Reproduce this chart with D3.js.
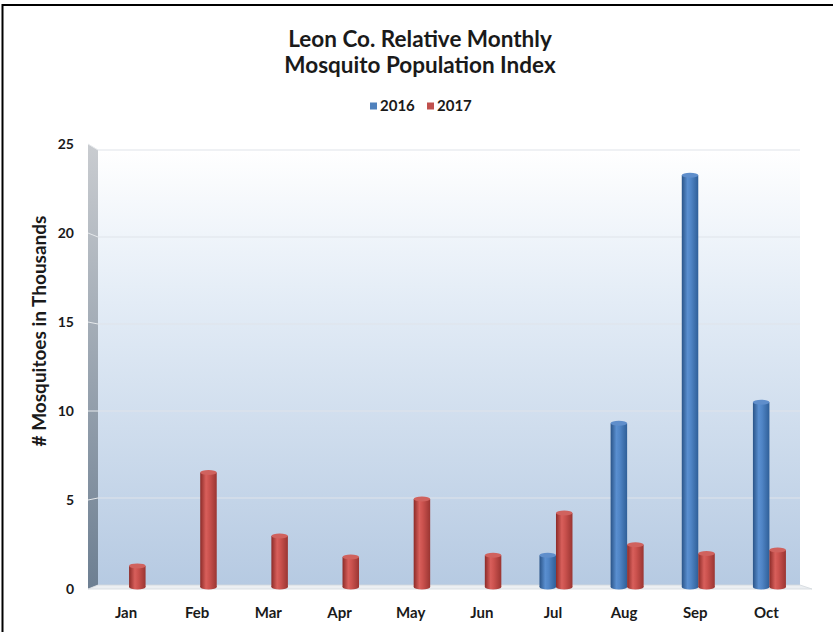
<!DOCTYPE html>
<html>
<head>
<meta charset="utf-8">
<script src="https://cdn.jsdelivr.net/npm/d3@7"></script>
<style>
  html, body { margin: 0; padding: 0; background: #fff; }
  svg text { font-family: Lato, "Open Sans", sans-serif; font-weight: bold; fill: #1a1a1a; }
</style>
</head>
<body>
<div id="chart"></div>
<script>
// chart data
const months = ["Jan", "Feb", "Mar", "Apr", "May", "Jun", "Jul", "Aug", "Sep", "Oct"];
const seriesNames = ["2016", "2017"];
const values2016 = [null, null, null, null, null, null, 1.8, 9.3, 23.4, 10.5];
const values2017 = [1.2, 6.5, 2.9, 1.7, 5.0, 1.8, 4.2, 2.4, 1.9, 2.1];
const yTicks = [0, 5, 10, 15, 20, 25];
const titleLines = ["Leon Co. Relative Monthly", "Mosquito Population Index"];
const yTitle = "# Mosquitoes in Thousands";

const width = 833, height = 632;

const svg = d3.select("#chart")
  .append("svg")
  .attr("width", width)
  .attr("height", height);

const defs = svg.append("defs");

function gradient(id, horizontal, stops) {
  const g = defs.append("linearGradient")
    .attr("id", id)
    .attr("x1", 0).attr("y1", 0)
    .attr("x2", horizontal ? 1 : 0).attr("y2", horizontal ? 0 : 1);
  stops.forEach(([o, c]) => g.append("stop").attr("offset", o).attr("stop-color", c));
}

gradient("backWall", false, [[0, "#ffffff"], [0.35, "#e3ecf6"], [1, "#b6cae2"]]);
gradient("sideWall", false, [[0, "#c9ccd0"], [1, "#6d7f92"]]);
gradient("cyl2016", true, [[0, "#2a5488"], [0.35, "#5a8fd0"], [0.55, "#5085c6"], [1, "#2f5f98"]]);
gradient("cyl2017", true, [[0, "#8c2b28"], [0.35, "#d85f5b"], [0.55, "#cb524e"], [1, "#9a3532"]]);

const colors = { "2016": "#4f81bd", "2017": "#c0504d" };
const capColors = { "2016": "#5f8ecb", "2017": "#d0625e" };

// outer frame (only top and left edges show in the picture)
svg.append("line").attr("x1", 2.5).attr("x2", width).attr("y1", 5).attr("y2", 5)
  .attr("stroke", "#000").attr("stroke-width", 2);
svg.append("line").attr("x1", 2.5).attr("x2", 2.5).attr("y1", 4).attr("y2", height)
  .attr("stroke", "#000").attr("stroke-width", 2);

// scales: back wall, front edge of side wall, and mid depth for bars
const yBack = d3.scaleLinear().domain([0, 25]).range([585, 150]);
const yFront = d3.scaleLinear().domain([0, 25]).range([589, 144]);
const yBar = d3.scaleLinear().domain([0, 25]).range([587, 147]);

const wallLeft = 98, wallRight = 800, depthX = 10;

const x = d3.scaleBand().domain(months).range([93.5, 805]);
const barW = 16.5;
const x1 = d3.scaleBand().domain(seriesNames)
  .range([x.bandwidth() / 2 - barW, x.bandwidth() / 2 + barW]);

// back wall
svg.append("rect")
  .attr("x", wallLeft).attr("y", yBack(25))
  .attr("width", wallRight - wallLeft).attr("height", yBack(0) - yBack(25))
  .attr("fill", "url(#backWall)");

// side wall
svg.append("polygon")
  .attr("points", [
    [wallLeft - depthX, yFront(25)], [wallLeft, yBack(25)],
    [wallLeft, yBack(0)], [wallLeft - depthX, yFront(0)]
  ].join(" "))
  .attr("fill", "url(#sideWall)");

// floor
svg.append("polygon")
  .attr("points", [
    [wallLeft, yBack(0)], [wallRight, yBack(0)],
    [wallRight + 12, yFront(0)], [wallLeft - depthX, yFront(0)]
  ].join(" "))
  .attr("fill", "#eceff2")
  .attr("stroke", "#d3d8dd")
  .attr("stroke-width", 0.8);

// gridlines
const grid = svg.append("g");
grid.selectAll("line.back")
  .data(yTicks.filter(d => d > 0))
  .join("line")
  .attr("class", "back")
  .attr("x1", wallLeft).attr("x2", wallRight)
  .attr("y1", d => yBack(d)).attr("y2", d => yBack(d))
  .attr("stroke", "#dfe4ea").attr("stroke-width", 1.2);
grid.selectAll("line.side")
  .data(yTicks.filter(d => d > 0))
  .join("line")
  .attr("class", "side")
  .attr("x1", wallLeft - depthX).attr("x2", wallLeft)
  .attr("y1", d => yFront(d)).attr("y2", d => yBack(d))
  .attr("stroke", "#e6e9ec").attr("stroke-width", 1);

// y tick labels
svg.append("g")
  .selectAll("text")
  .data(yTicks)
  .join("text")
  .attr("x", 74)
  .attr("y", d => yFront(d))
  .attr("dy", "0.35em")
  .attr("text-anchor", "end")
  .attr("font-size", 14)
  .text(d => d);

// x labels
svg.append("g")
  .selectAll("text")
  .data(months)
  .join("text")
  .attr("x", d => x(d) + x.bandwidth() / 2 - 3)
  .attr("y", 618)
  .attr("text-anchor", "middle")
  .attr("font-size", 15)
  .text(d => d);

// cylinder bars
const barData = [];
months.forEach((m, i) => {
  if (values2016[i] != null) barData.push({ month: m, series: "2016", value: values2016[i] });
  if (values2017[i] != null) barData.push({ month: m, series: "2017", value: values2017[i] });
});

const bars = svg.append("g")
  .selectAll("g")
  .data(barData)
  .join("g")
  .attr("transform", d => `translate(${x(d.month) + x1(d.series)},0)`);

const ry = 2.5;
bars.append("ellipse")
  .attr("cx", barW / 2).attr("cy", yBar(0))
  .attr("rx", barW / 2).attr("ry", ry)
  .attr("fill", d => `url(#cyl${d.series})`);
bars.append("rect")
  .attr("x", 0).attr("width", barW)
  .attr("y", d => yBar(d.value))
  .attr("height", d => yBar(0) - yBar(d.value))
  .attr("fill", d => `url(#cyl${d.series})`);
bars.append("ellipse")
  .attr("cx", barW / 2).attr("cy", d => yBar(d.value))
  .attr("rx", barW / 2).attr("ry", ry)
  .attr("fill", d => capColors[d.series]);

// title
svg.append("g")
  .selectAll("text")
  .data(titleLines)
  .join("text")
  .attr("x", 420)
  .attr("y", (d, i) => 47 + i * 26)
  .attr("text-anchor", "middle")
  .attr("font-size", 22.5)
  .text(d => d);

// legend
const legend = svg.append("g").attr("transform", "translate(370,100)");
const legendItems = legend.selectAll("g")
  .data(seriesNames)
  .join("g")
  .attr("transform", (d, i) => `translate(${i * 57},0)`);
legendItems.append("rect")
  .attr("width", 7).attr("height", 7).attr("y", 2.5)
  .attr("fill", d => colors[d]);
legendItems.append("text")
  .attr("x", 10).attr("y", 10.5)
  .attr("font-size", 15)
  .text(d => d);

// y axis title
svg.append("text")
  .attr("transform", "translate(46,331) rotate(-90)")
  .attr("text-anchor", "middle")
  .attr("font-size", 19)
  .text(yTitle);
</script>
</body>
</html>
